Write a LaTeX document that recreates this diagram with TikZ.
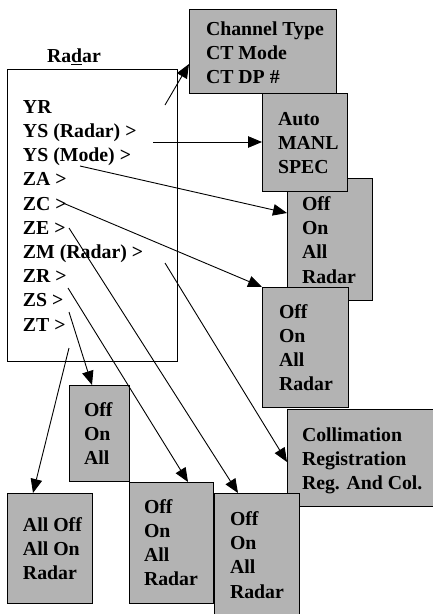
\documentclass[tikz,border=0pt]{standalone}
\usepackage{fontspec}
\setmainfont{Liberation Serif}
\usetikzlibrary{arrows.meta,calc}
\definecolor{boxgray}{RGB}{179,179,179}
\newcommand\mylines[1]{\begin{tabular}[t]{@{}l@{}}#1\end{tabular}}
\tikzset{
  box/.style={draw=black, fill=boxgray, line width=1pt, inner sep=0pt, outer sep=0pt, anchor=north west},
  mainbox/.style={draw=black, fill=white, line width=1pt, inner sep=0pt, outer sep=0pt, anchor=north west},
  txt/.style={inner sep=0pt, outer sep=0pt, anchor=base west, font=\fontsize{19.8}{24.2}\selectfont\bfseries},
  conn/.style={draw=black, line width=0.9pt, -{Triangle[length=14pt,width=11.5pt]}}
}
\begin{document}
\begin{tikzpicture}[x=1pt,y=-1pt]
\useasboundingbox (0,0) rectangle (432,614);
% main box
\node[mainbox, minimum width=170pt, minimum height=292pt] (main) at (7,69) {};
\node[txt] (title) at (47,62.7) {Ra\underline{d}ar};
\node[txt] (list) at (23,113.3) {\mylines{YR\\YS (Radar) >\\YS (Mode) >\\ZA >\\ZC >\\ZE >\\ZM (Radar) >\\ZR >\\ZS >\\ZT >}};
% boxes
\node[box, minimum width=147pt, minimum height=84pt] (ch) at (189,9) {};
\node[txt] (chT) at (206,35) {\mylines{Channel Type\\CT Mode\\CT DP \#}};
\node[box, minimum width=85pt, minimum height=122pt] (b3) at (287,178) {};
\node[txt] (b3T) at (302,210.5) {\mylines{Off\\On\\All\\Radar}};
\node[box, minimum width=85pt, minimum height=98pt] (auto) at (262,93) {};
\node[txt] (autoT) at (278,125) {\mylines{Auto\\MANL\\SPEC}};
\node[box, minimum width=86pt, minimum height=120pt] (b4) at (262,287) {};
\node[txt] (b4T) at (279,318) {\mylines{Off\\On\\All\\Radar}};
\node[box, minimum width=146pt, minimum height=97pt] (col) at (287,409) {};
\node[txt] (colT) at (302,441.5) {\mylines{Collimation\\Registration\\Reg. And Col.}};
\node[box, minimum width=60pt, minimum height=96pt] (sm) at (69,385) {};
\node[txt] (smT) at (84,416.5) {\mylines{Off\\On\\All}};
\node[box, minimum width=84pt, minimum height=121pt] (mid) at (129,482) {};
\node[txt] (midT) at (144,513) {\mylines{Off\\On\\All\\Radar}};
\node[box, minimum width=85pt, minimum height=110pt] (alloff) at (7,493) {};
\node[txt] (alloffT) at (23,531.5) {\mylines{All Off\\All On\\Radar}};
\node[box, minimum width=85pt, minimum height=125pt] (br) at (214,493) {};
\node[txt] (brT) at (230,525.5) {\mylines{Off\\On\\All\\Radar}};
% connector starts
\coordinate (s1) at (165,105);
\coordinate (s2) at (153,142);
\coordinate (s3) at (80,166);
\coordinate (s4) at (63,203);
\coordinate (s5) at (69,228);
\coordinate (s6) at (165,263);
\coordinate (s7) at (68,288);
\coordinate (s8) at (69,312);
\coordinate (s9) at (69,348);
% connectors
\draw[conn] (s1) -- ($(ch.north west)+(0,55)$);
\draw[conn] (s2) -- (auto.west);
\draw[conn] (s3) -- ($(b3.north west)+(0,35)$);
\draw[conn] (s4) -- (b4.north west);
\draw[conn] (s5) -- ($(br.north west)+(24,0)$);
\draw[conn] (s6) -- ($(col.north west)+(0,53)$);
\draw[conn] (s7) -- ($(mid.north west)+(59,0)$);
\draw[conn] (s8) -- ($(sm.north west)+(23,0)$);
\draw[conn] (s9) -- ($(alloff.north west)+(26,0)$);
\end{tikzpicture}
\end{document}
